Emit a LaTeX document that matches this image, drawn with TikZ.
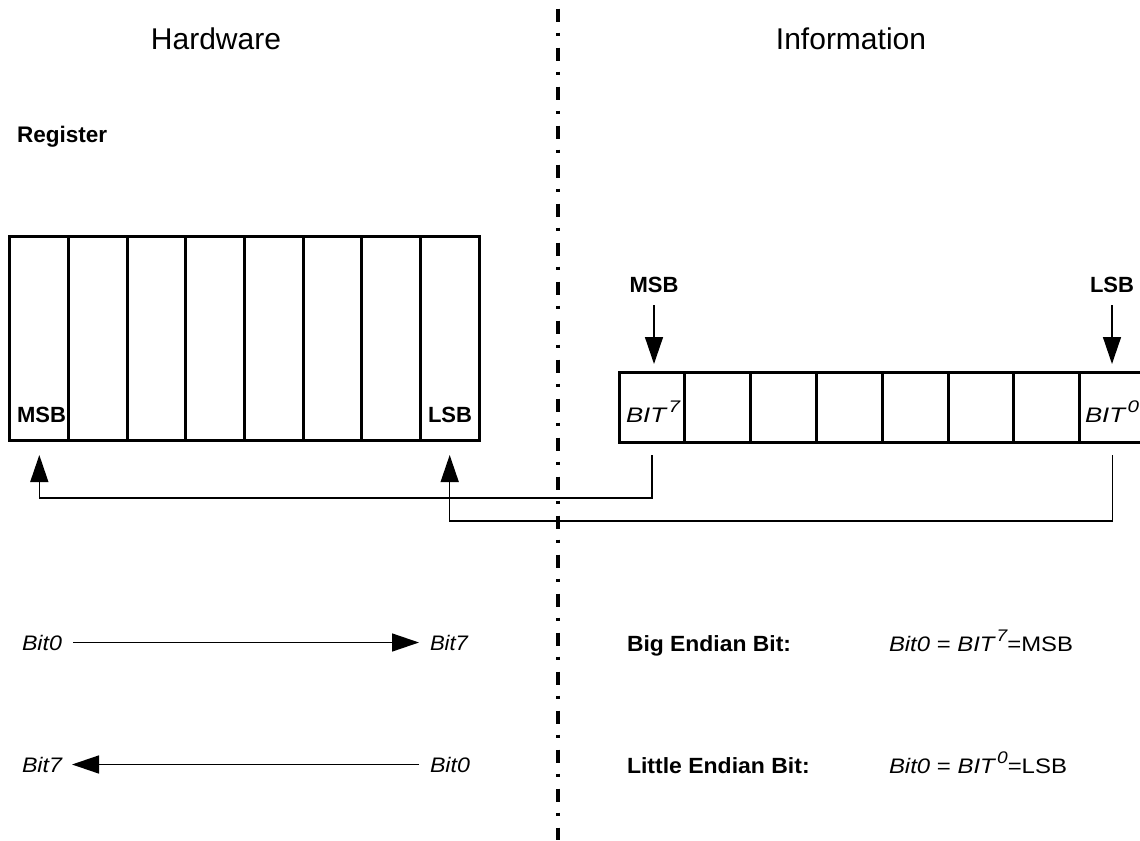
\documentclass[tikz,border=0pt]{standalone}
\usepackage{fontspec}
\setmainfont{Liberation Sans}
\usepackage{graphicx}
\usetikzlibrary{arrows.meta,calc}
\newcommand{\fitw}[2]{\resizebox{#1}{\height}{#2}}
\newcommand{\bitsup}[1]{{\itshape BIT}\hspace{1.5pt}\raisebox{7.5pt}{\fontsize{12.6}{14}\selectfont\itshape #1}}
\begin{document}
\begin{tikzpicture}[x=0.75pt,y=-0.75pt,
  txt/.style={inner sep=0pt, outer sep=0pt},
  ttl/.style={txt, anchor=base, font=\fontsize{22.5}{27}\selectfont},
  bld/.style={txt, font=\bfseries\fontsize{16.5}{20}\selectfont},
  itl/.style={txt, font=\itshape\fontsize{15.75}{19}\selectfont},
  rmn/.style={txt, font=\fontsize{15.75}{19}\selectfont},
  lcell/.style={draw, line width=2.25pt, minimum width=43.97pt, minimum height=152.5pt, inner sep=0pt, outer sep=0pt},
  rcell/.style={draw, line width=2.25pt, minimum width=49.35pt, minimum height=52.5pt, inner sep=0pt, outer sep=0pt},
  conn/.style={line width=1.1pt},
  tip/.style={-{Triangle[length=20.25pt,width=13.5pt]}},
  divider/.style={line width=2.6pt, dash pattern=on 9.75pt off 8.25pt on 2.25pt off 9pt, dash phase=22.7pt}
]
\useasboundingbox (0,0) rectangle (1140,840);
\clip (0,0) rectangle (1140,840);

% divider
\coordinate (dtop) at (558,0);
\coordinate (dbot) at (558,840);
\draw[divider] (dtop) -- (dbot);

% titles
\node[ttl] (hw) at (216,49) {Hardware};
\node[ttl] (info) at (851,49) {Information};
\node[txt, anchor=base west, font=\bfseries\fontsize{16.9}{20}\selectfont] (reg) at (17,142) {Register};

% left register
\foreach \i in {1,...,8}
  \node[lcell] (L\i) at ({10+58.625*(\i-0.5)},338.35) {};
\node[bld, anchor=base west] (msbL) at (17,422) {MSB};
\node[bld, anchor=base east] (lsbL) at (472,422) {LSB};

% right register
\foreach \i in {1,...,8}
  \node[rcell] (R\i) at ({619+65.8*(\i-0.5)},407) {};
\node[itl, anchor=base west] (b7) at (626,422) {\fitw{40.5pt}{\bitsup{7}}};
\node[itl, anchor=base west] (b0) at (1085,422) {\fitw{40.5pt}{\bitsup{0}}};

\node[bld, anchor=base] (msbR) at (654,292) {MSB};
\node[bld, anchor=base] (lsbR) at (1112,292) {LSB};
\draw[conn,tip,shorten <=9.75pt,shorten >=6pt] (msbR.south) -- (msbR.south |- R1.north);
\draw[conn,tip,shorten <=9.75pt,shorten >=6pt] (lsbR.south) -- (lsbR.south |- R8.north);

% connectors
\coordinate (h1) at (0,498);
\coordinate (h2) at (0,521);
\draw[conn,tip] ($(R1.south)+(0,13)$) -- (R1.south |- h1) -- (L1.south |- h1) -- ($(L1.south)+(0,15)$);
\draw[conn,tip] ($(R8.south)+(0,13)$) -- (R8.south |- h2) -- (L8.south |- h2) -- ($(L8.south)+(0,15)$);

% bottom left
\node[itl, anchor=base west] (r1a) at (22,650) {\fitw{30pt}{Bit0}};
\node[itl, anchor=base west] (r1b) at (430,650) {\fitw{28.5pt}{Bit7}};
\draw[conn,tip,shorten <=8.25pt,shorten >=8.25pt] (r1a.east) -- (r1b.west);
\node[itl, anchor=base west] (r2a) at (22,772) {\fitw{30pt}{Bit7}};
\node[itl, anchor=base west] (r2b) at (430,772) {\fitw{30pt}{Bit0}};
\draw[conn,tip,shorten <=8.25pt,shorten >=7.5pt] (r2b.west) -- (r2a.east);

% bottom right
\node[bld, anchor=base west] (big) at (627,651) {\fitw{123pt}{Big Endian Bit:}};
\node[bld, anchor=base west] (little) at (627,773) {\fitw{137pt}{Little Endian Bit:}};
\node[rmn, anchor=base west] (eq1) at (889,651) {\fitw{138pt}{\textit{Bit0} = \bitsup{7}=MSB}};
\node[rmn, anchor=base west] (eq2) at (889,773) {\fitw{133.5pt}{\textit{Bit0} = \bitsup{0}=LSB}};
\end{tikzpicture}
\end{document}
